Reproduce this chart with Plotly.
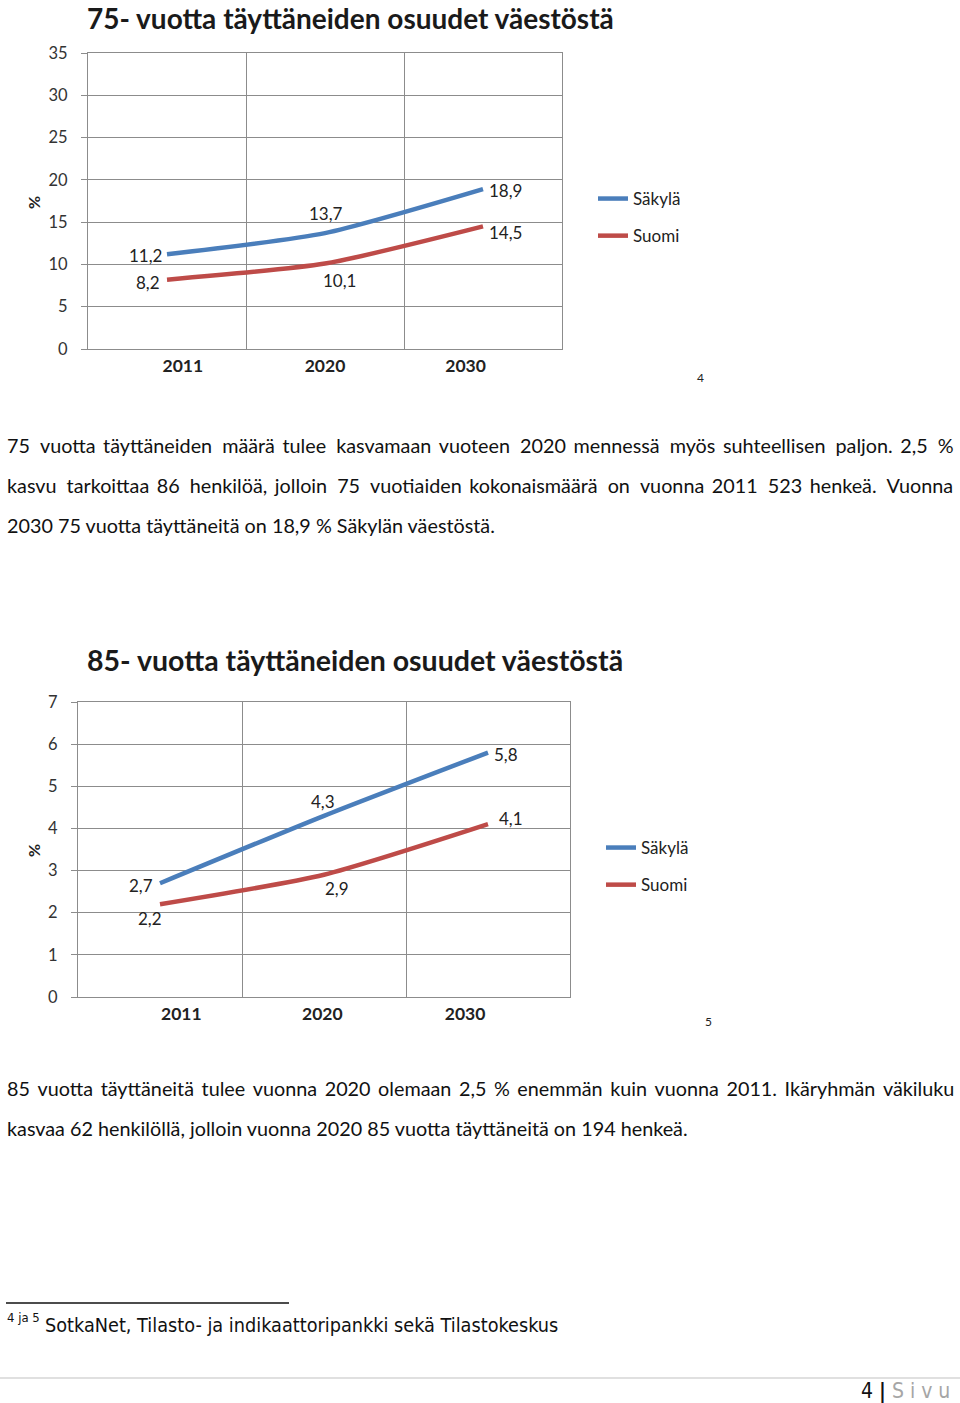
import plotly.graph_objects as go

# ---- data ----
years = ["2011", "2020", "2030"]
series_names = ["Säkylä", "Suomi"]
c75_sakyla = [11.2, 13.7, 18.9]
c75_suomi = [8.2, 10.1, 14.5]
c85_sakyla = [2.7, 4.3, 5.8]
c85_suomi = [2.2, 2.9, 4.1]
title75 = "75- vuotta täyttäneiden osuudet väestöstä"
title85 = "85- vuotta täyttäneiden osuudet väestöstä"
y75_ticks = [0, 5, 10, 15, 20, 25, 30, 35]
y85_ticks = [0, 1, 2, 3, 4, 5, 6, 7]

para1 = [
    "75 vuotta täyttäneiden määrä tulee kasvamaan vuoteen 2020 mennessä myös suhteellisen paljon. 2,5 %",
    "kasvu tarkoittaa 86 henkilöä, jolloin 75 vuotiaiden kokonaismäärä on vuonna 2011 523 henkeä. Vuonna",
    "2030 75 vuotta täyttäneitä on 18,9 % Säkylän väestöstä.",
]
para2 = [
    "85 vuotta täyttäneitä tulee vuonna 2020 olemaan 2,5 % enemmän kuin vuonna 2011. Ikäryhmän väkiluku",
    "kasvaa 62 henkilöllä, jolloin vuonna 2020 85 vuotta täyttäneitä on 194 henkeä.",
]
footnote = "SotkaNet, Tilasto- ja indikaattoripankki sekä Tilastokeskus"

W, H = 960, 1403
BLUE = "#4A7EBB"
RED = "#BE4B48"
GRID = "#8C8C8C"
CF = "Lato"
TF = "Lato"
NARROW = "DejaVu Sans Condensed, Roboto, sans-serif"
PSIZE = 19.8


def px(x):
    return x / W


def py(y):
    return 1 - y / H


fig = go.Figure()

xidx = list(range(len(years)))
charts = [
    dict(ax="", sak=c75_sakyla, suo=c75_suomi, legend="legend"),
    dict(ax="2", sak=c85_sakyla, suo=c85_suomi, legend="legend2"),
]
for ch in charts:
    for name, vals, col in [(series_names[0], ch["sak"], BLUE), (series_names[1], ch["suo"], RED)]:
        fig.add_trace(go.Scatter(
            x=xidx, y=vals, name=name, mode="lines",
            line=dict(color=col, width=4.5, shape="spline", smoothing=0.6),
            xaxis="x" + ch["ax"], yaxis="y" + ch["ax"],
            legend=ch["legend"], legendgroup=name + ch["ax"],
            hoverinfo="skip",
        ))

axis_common = dict(showline=True, mirror=True, linecolor=GRID, linewidth=1,
                   showgrid=True, gridcolor=GRID, gridwidth=1, zeroline=False, fixedrange=True,
                   automargin=False)


def xaxis_style(label_pos):
    d = dict(type="linear", range=[-0.5, 2.5], tickvals=label_pos, ticktext=years, ticks="",
             tickangle=0, tickfont=dict(family=CF, size=17.5, color="#222", weight="bold"),
             ticklabelstandoff=1,
             minor=dict(tickvals=[0.5, 1.5], showgrid=True, gridcolor=GRID, gridwidth=1, ticks=""),
             **axis_common)
    d["showgrid"] = False
    return d


ycommon = dict(ticks="outside", ticklen=6, tickcolor=GRID, ticklabelstandoff=10,
               tickfont=dict(family=CF, size=16.5, color="#333"), **axis_common)

fig.update_layout(
    width=W, height=H, margin=dict(l=0, r=0, t=0, b=0, pad=0, autoexpand=False),
    paper_bgcolor="white", plot_bgcolor="white",
    font=dict(family=CF, color="#222"),
    xaxis=dict(domain=[px(88), px(562)], anchor="y", **xaxis_style([0.1, 1.0, 1.89])),
    yaxis=dict(domain=[py(349), py(53)], anchor="x", range=[0, 35], tickvals=y75_ticks, **ycommon),
    xaxis2=dict(domain=[px(78), px(570)], anchor="y2", **xaxis_style([0.13, 0.99, 1.86])),
    yaxis2=dict(domain=[py(997), py(702)], anchor="x2", range=[0, 7], tickvals=y85_ticks, **ycommon),
    legend=dict(x=px(593), y=py(181), xanchor="left", yanchor="top", bgcolor="rgba(0,0,0,0)",
                font=dict(family=CF, size=17, color="#222"), tracegroupgap=12,
                traceorder="grouped", itemwidth=30),
    legend2=dict(x=px(601), y=py(830), xanchor="left", yanchor="top", bgcolor="rgba(0,0,0,0)",
                 font=dict(family=CF, size=17, color="#222"), tracegroupgap=12,
                 traceorder="grouped", itemwidth=30),
    showlegend=True,
)

ann = []
# data labels
label_offsets75 = {"sak": [(-22, -1), (1, 20), (22, -1)], "suo": [(-19, -3), (14, -17), (22, -6)]}
label_offsets85 = {"sak": [(-19, -2), (-1, 14), (18, -2)], "suo": [(-10, -14), (13, -14), (23, 6)]}
for ax, sak, suo, offs in [("", c75_sakyla, c75_suomi, label_offsets75), ("2", c85_sakyla, c85_suomi, label_offsets85)]:
    for key, vals in [("sak", sak), ("suo", suo)]:
        for i, v in enumerate(vals):
            dx, dy = offs[key][i]
            ann.append(dict(x=xidx[i], y=v, xref="x" + ax, yref="y" + ax, text=f"{v:.1f}".replace(".", ","),
                            showarrow=False, xshift=dx, yshift=dy, xanchor="center", yanchor="middle",
                            font=dict(family=CF, size=17, color="#222")))


def txt(x, y, text, size, family=TF, xanchor="left", color="#111", **kw):
    ann.append(dict(x=px(x), y=py(y), xref="paper", yref="paper", text=text, xanchor=xanchor,
                    yanchor="middle", showarrow=False, font=dict(family=family, size=size, color=color), **kw))


def justify(line, n_thin):
    # widen word gaps with thin spaces to mimic justified text
    words = line.split(" ")
    gaps = len(words) - 1
    out = words[0]
    acc = 0.0
    for w in words[1:]:
        acc += n_thin / gaps
        k = int(round(acc))
        acc -= k
        out += " " + "\u2009" * k + w
    return out


# titles
txt(350, 18, "<b>" + title75 + "</b>", 28, family=CF, xanchor="center", color="#1a1a1a")
txt(355, 660, "<b>" + title85 + "</b>", 28.5, family=CF, xanchor="center", color="#1a1a1a")
# % axis titles
for yy in [203, 851]:
    txt(33, yy, "<b>%</b>", 16, family=CF, xanchor="center", color="#222", textangle=-90)
# footnote refs
txt(700, 378, "4", 12, xanchor="center", color="#222")
txt(708, 1021, "5", 12, xanchor="center", color="#222")

# paragraphs (first lines justified)
thin1 = [20, 21, 0]
thin2 = [14, 0]
for i, line in enumerate(para1):
    txt(5, 445 + 40 * i, justify(line, thin1[i]) if thin1[i] else line, PSIZE)
for i, line in enumerate(para2):
    txt(5, 1088 + 40 * i, justify(line, thin2[i]) if thin2[i] else line, PSIZE)

# footnote
txt(5, 1317, "4 ja 5", 13, family=NARROW)
txt(43, 1325, footnote, 19.7, family=NARROW)
# page number
txt(952, 1391, "4 <b>|</b> <span style='color:#A6A6A6'>S i v u</span>", 21, family=NARROW, xanchor="right")

fig.update_layout(annotations=ann)

fig.add_shape(type="line", xref="paper", yref="paper", x0=px(6), x1=px(289), y0=py(1303), y1=py(1303),
              line=dict(color="#111", width=1.5))
fig.add_shape(type="line", xref="paper", yref="paper", x0=px(0), x1=px(960), y0=py(1378), y1=py(1378),
              line=dict(color="#E0E0E0", width=2))

fig.write_html("out.html", config=dict(displayModeBar=False, staticPlot=True),
               post_script="document.body.style.margin='0';document.body.style.padding='0';")
